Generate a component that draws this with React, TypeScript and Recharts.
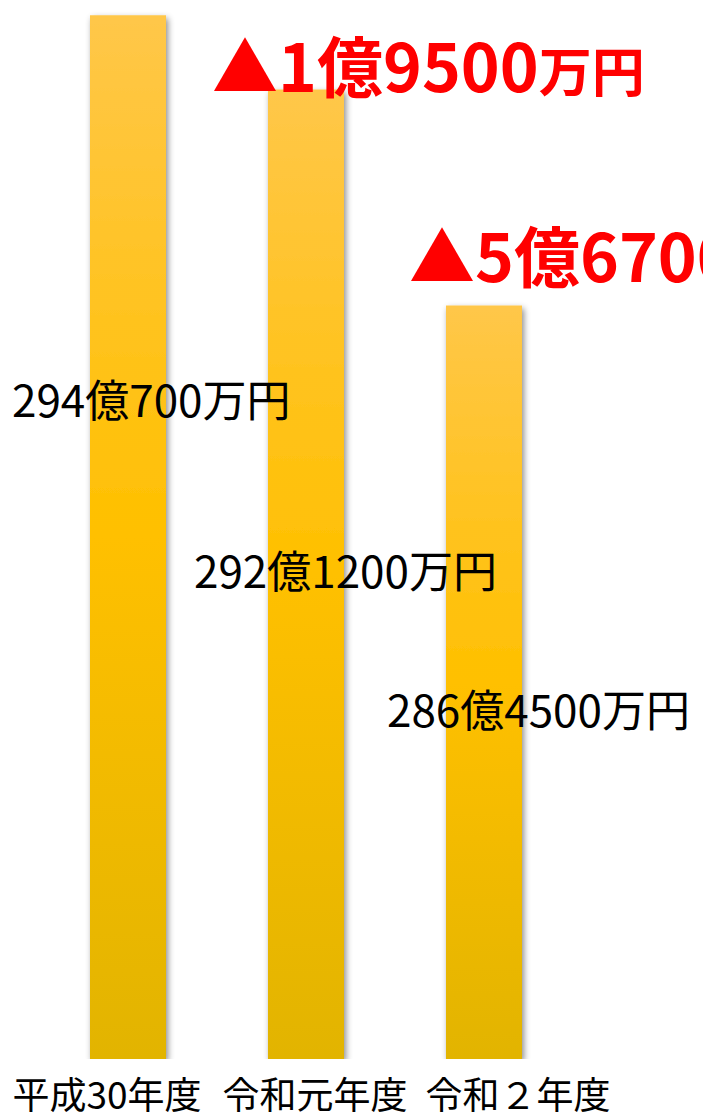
import React from 'react';
import { BarChart, Bar, XAxis, YAxis, LabelList } from 'recharts';

// categories and values (unit: 万円)
const categories = ['平成30年度', '令和元年度', '令和２年度'];
const amounts = [2940700, 2921200, 2864500];
const yDomain = [2666700, 2942600];

const data = categories.map((name, i) => ({ name, value: amounts[i] }));

// layout of labels (relative to each bar's left edge and bottom)
const valueLabelOffsets = [
  { dx: -78, dy: -642 },
  { dx: -74, dy: -471 },
  { dx: -59, dy: -332 },
];
const diffLabelOffsets = [
  { dx: 0, dy: 0 },
  { dx: -56, dy: -967 },
  { dx: -37, dy: -777 },
];
const tickOffsets = [-21, 9, 34];

const FONT = '"Noto Sans CJK JP", "Noto Sans", sans-serif';

const splitOku = (v: number) => ({ oku: Math.floor(v / 10000), man: v % 10000 });
const fmt = (v: number) => {
  const { oku, man } = splitOku(v);
  return `${oku}億${man ? man + '万' : ''}円`;
};

const getBox = (props: any) => {
  const vb = props.viewBox || {};
  return {
    x: Number(props.x ?? vb.x),
    y: Number(props.y ?? vb.y),
    width: Number(props.width ?? vb.width),
    height: Number(props.height ?? vb.height),
  };
};

const ValueLabel = (props: any) => {
  const { index, value } = props;
  const b = getBox(props);
  const off = valueLabelOffsets[index];
  return (
    <text x={b.x + off.dx} y={b.y + b.height + off.dy} fill="#000" fontSize={44} fontFamily={FONT} textAnchor="start">
      {fmt(Number(value))}
    </text>
  );
};

const DiffLabel = (props: any) => {
  const { index } = props;
  if (!index) return null;
  const b = getBox(props);
  const off = diffLabelOffsets[index];
  const diff = amounts[index - 1] - amounts[index];
  const { oku, man } = splitOku(diff);
  return (
    <text x={b.x + off.dx} y={b.y + b.height + off.dy} fill="#FF0000" fontWeight={700} fontFamily={FONT} textAnchor="start">
      <tspan fontSize={66}>{`▲${oku}億${man}`}</tspan>
      <tspan fontSize={53}>万円</tspan>
    </text>
  );
};

const CategoryTick = (props: any) => {
  const { x, y, payload } = props;
  const i = payload.index ?? categories.indexOf(payload.value);
  return (
    <text x={x + tickOffsets[i]} y={y + 42} fill="#000" fontSize={37} fontFamily={FONT} textAnchor="middle">
      {payload.value}
    </text>
  );
};

export default function App() {
  return (
    <div style={{ position: 'absolute', left: 0, top: 0, width: 703, height: 1116, background: '#fff' }}>
      <BarChart width={703} height={1116} data={data} margin={{ top: 8, right: 130, bottom: 0, left: 39 }}>
        <defs>
          <linearGradient id="goldGrad" x1="0" y1="0" x2="0" y2="1">
            <stop offset="0%" stopColor="#FFC749" />
            <stop offset="50%" stopColor="#FFC000" />
            <stop offset="100%" stopColor="#E2B400" />
          </linearGradient>
          <filter id="barShadow" x="-30%" y="-10%" width="160%" height="120%">
            <feDropShadow dx="2" dy="3" stdDeviation="3" floodColor="#000" floodOpacity="0.45" />
          </filter>
        </defs>
        <XAxis dataKey="name" axisLine={false} tickLine={false} height={57} interval={0} tick={<CategoryTick />} />
        <YAxis hide type="number" domain={yDomain} allowDataOverflow />
        <Bar dataKey="value" barSize={76} fill="url(#goldGrad)" filter="url(#barShadow)" isAnimationActive={false}>
          <LabelList dataKey="value" content={<ValueLabel />} />
          <LabelList dataKey="value" content={<DiffLabel />} />
        </Bar>
      </BarChart>
    </div>
  );
}
